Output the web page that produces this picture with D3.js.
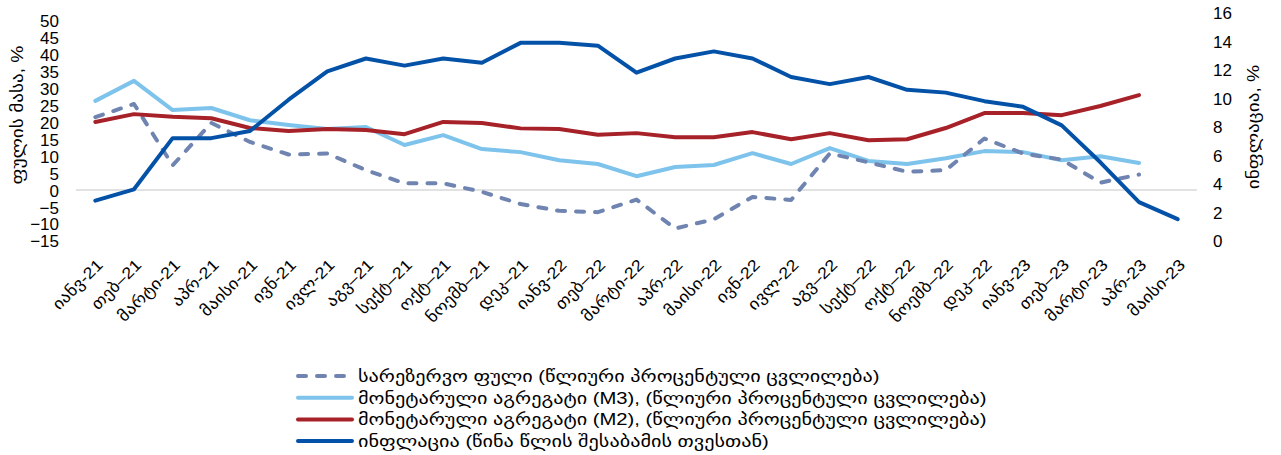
<!DOCTYPE html>
<html>
<head>
<meta charset="utf-8">
<script src="https://cdn.jsdelivr.net/npm/d3@7"></script>
<style>
  html, body { margin: 0; padding: 0; background: #fff; }
  svg { display: block; }
  text { font-family: "Liberation Sans", Arial, "DejaVu Sans", sans-serif; fill: #000; }
</style>
</head>
<body>
<svg id="chart" width="1281" height="455"></svg>
<script>
const categories = ["იანვ-21","თებ–21","მარტი-21","აპრ-21","მაისი-21","ივნ-21","ივლ-21","აგვ–21","სექტ–21","ოქტ–21","ნოემბ–21","დეკ–21",
  "იანვ-22","თებ–22","მარტი-22","აპრ-22","მაისი-22","ივნ-22","ივლ-22","აგვ–22","სექტ–22","ოქტ–22","ნოემბ–22","დეკ–22",
  "იანვ-23","თებ–23","მარტი-23","აპრ-23","მაისი-23"];

const reserveMoney = [21.5,25.4,7.3,19.8,14.2,10.5,10.8,5.9,2.0,2.0,-0.5,-4.1,-6.1,-6.5,-2.8,-11.3,-8.6,-2.0,-2.9,10.8,8.2,5.4,5.9,15.2,10.8,9.0,2.2,4.6];
const m3 = [26.3,32.2,23.6,24.2,20.6,19.2,18.0,18.6,13.3,16.2,12.1,11.2,8.8,7.7,4.1,6.8,7.4,10.9,7.7,12.4,8.6,7.7,9.4,11.5,11.2,8.8,10.0,8.0];
const m2 = [20.1,22.4,21.6,21.2,18.3,17.4,18.0,17.7,16.5,20.1,19.8,18.2,18.0,16.3,16.8,15.6,15.6,17.1,15.0,16.8,14.7,15.0,18.3,22.7,22.7,22.1,24.8,28.0];
const inflation = [2.8,3.6,7.2,7.2,7.7,9.9,11.9,12.8,12.3,12.8,12.5,13.9,13.9,13.7,11.8,12.8,13.3,12.8,11.5,11.0,11.5,10.6,10.4,9.8,9.4,8.1,5.5,2.7,1.5];

const leftTicks = [50,45,40,35,30,25,20,15,10,5,0,-5,-10,-15];
const rightTicks = [16,14,12,10,8,6,4,2,0];

const leftTitle = "ფულის მასა, %";
const rightTitle = "ინფლაცია, %";
const legendLabels = [
  "სარეზერვო ფული (წლიური პროცენტული ცვლილება)",
  "მონეტარული აგრეგატი (M3), (წლიური პროცენტული ცვლილება)",
  "მონეტარული აგრეგატი (M2), (წლიური პროცენტული ცვლილება)",
  "ინფლაცია (წინა წლის შესაბამის თვესთან)"
];

const colors = { reserve: "#6F84B0", m3: "#7DC3EB", m2: "#A72128", infl: "#0352A8" };

const svg = d3.select("#chart");
const plotLeft = 76, plotRight = 1197;

const x = d3.scalePoint().domain(categories).range([plotLeft, plotRight]).padding(0.5);
const yL = d3.scaleLinear().domain([-15, 50]).range([241, 20.5]);
const yR = d3.scaleLinear().domain([0, 16]).range([240.5, 13]);

// zero line
svg.append("line")
  .attr("x1", plotLeft).attr("x2", plotRight)
  .attr("y1", yL(0)).attr("y2", yL(0))
  .attr("stroke", "#D9D9D9").attr("stroke-width", 1.5);

// left axis
const axL = d3.axisLeft(yL).tickValues(leftTicks).tickSize(0).tickPadding(0).tickFormat(d3.format("d"));
const gL = svg.append("g").attr("transform", "translate(59,0)").call(axL);
gL.select(".domain").remove();
gL.selectAll("text").style("font-size", "17px").attr("dy", "0.35em").attr("fill", "#000")
  .style("font-family", '"Liberation Sans", Arial, sans-serif');

// right axis
const axR = d3.axisRight(yR).tickValues(rightTicks).tickSize(0).tickPadding(0).tickFormat(d3.format("d"));
const gR = svg.append("g").attr("transform", "translate(1213,0)").call(axR);
gR.select(".domain").remove();
gR.selectAll("text").style("font-size", "17px").attr("dy", "0.35em").attr("fill", "#000")
  .style("font-family", '"Liberation Sans", Arial, sans-serif');

// axis titles (Georgian glyphs in reference are wider -> stretch along text direction)
svg.append("text").attr("transform", "translate(23,115) rotate(-90) scale(1.2,1)")
  .attr("text-anchor", "middle").style("font-size", "16px").text(leftTitle);
svg.append("text").attr("transform", "translate(1259,127) rotate(-90) scale(1.2,1)")
  .attr("text-anchor", "middle").style("font-size", "16px").text(rightTitle);

// x axis labels
const axX = d3.axisBottom(x).tickSize(0).tickPadding(0);
const gX = svg.append("g").attr("transform", "translate(0,262)").call(axX);
gX.select(".domain").remove();
gX.selectAll("text")
  .attr("text-anchor", "end")
  .attr("dy", "0.35em")
  .attr("transform", "translate(4,0) rotate(-45) scale(1.13,1)")
  .attr("y", 0).attr("x", 0)
  .style("font-size", "16px").attr("fill", "#000");

// lines
function drawLine(data, yScale, color, dashed) {
  const line = d3.line().x((d, i) => x(categories[i])).y(d => yScale(d));
  const p = svg.append("path").datum(data)
    .attr("d", line).attr("fill", "none")
    .attr("stroke", color).attr("stroke-width", 4)
    .attr("stroke-linejoin", "round")
    .attr("stroke-linecap", "round");
  if (dashed) p.attr("stroke-dasharray", "8,11");
}
drawLine(m3, yL, colors.m3, false);
drawLine(reserveMoney, yL, colors.reserve, true);
drawLine(m2, yL, colors.m2, false);
drawLine(inflation, yR, colors.infl, false);

// legend
const legendItems = [
  { label: legendLabels[0], color: colors.reserve, dashed: true },
  { label: legendLabels[1], color: colors.m3, dashed: false },
  { label: legendLabels[2], color: colors.m2, dashed: false },
  { label: legendLabels[3], color: colors.infl, dashed: false }
];
const lg = svg.append("g");
legendItems.forEach((it, i) => {
  const yy = 376 + i * 21.7;
  const l = lg.append("line").attr("x1", 298).attr("x2", 352).attr("y1", yy).attr("y2", yy)
    .attr("stroke", it.color).attr("stroke-width", 4).attr("stroke-linecap", "round");
  if (it.dashed) l.attr("stroke-dasharray", "8,11");
  lg.append("text").attr("transform", `translate(358,${yy}) scale(1.19,1)`)
    .attr("dy", "0.35em")
    .style("font-size", "17px").text(it.label);
});
</script>
</body>
</html>
